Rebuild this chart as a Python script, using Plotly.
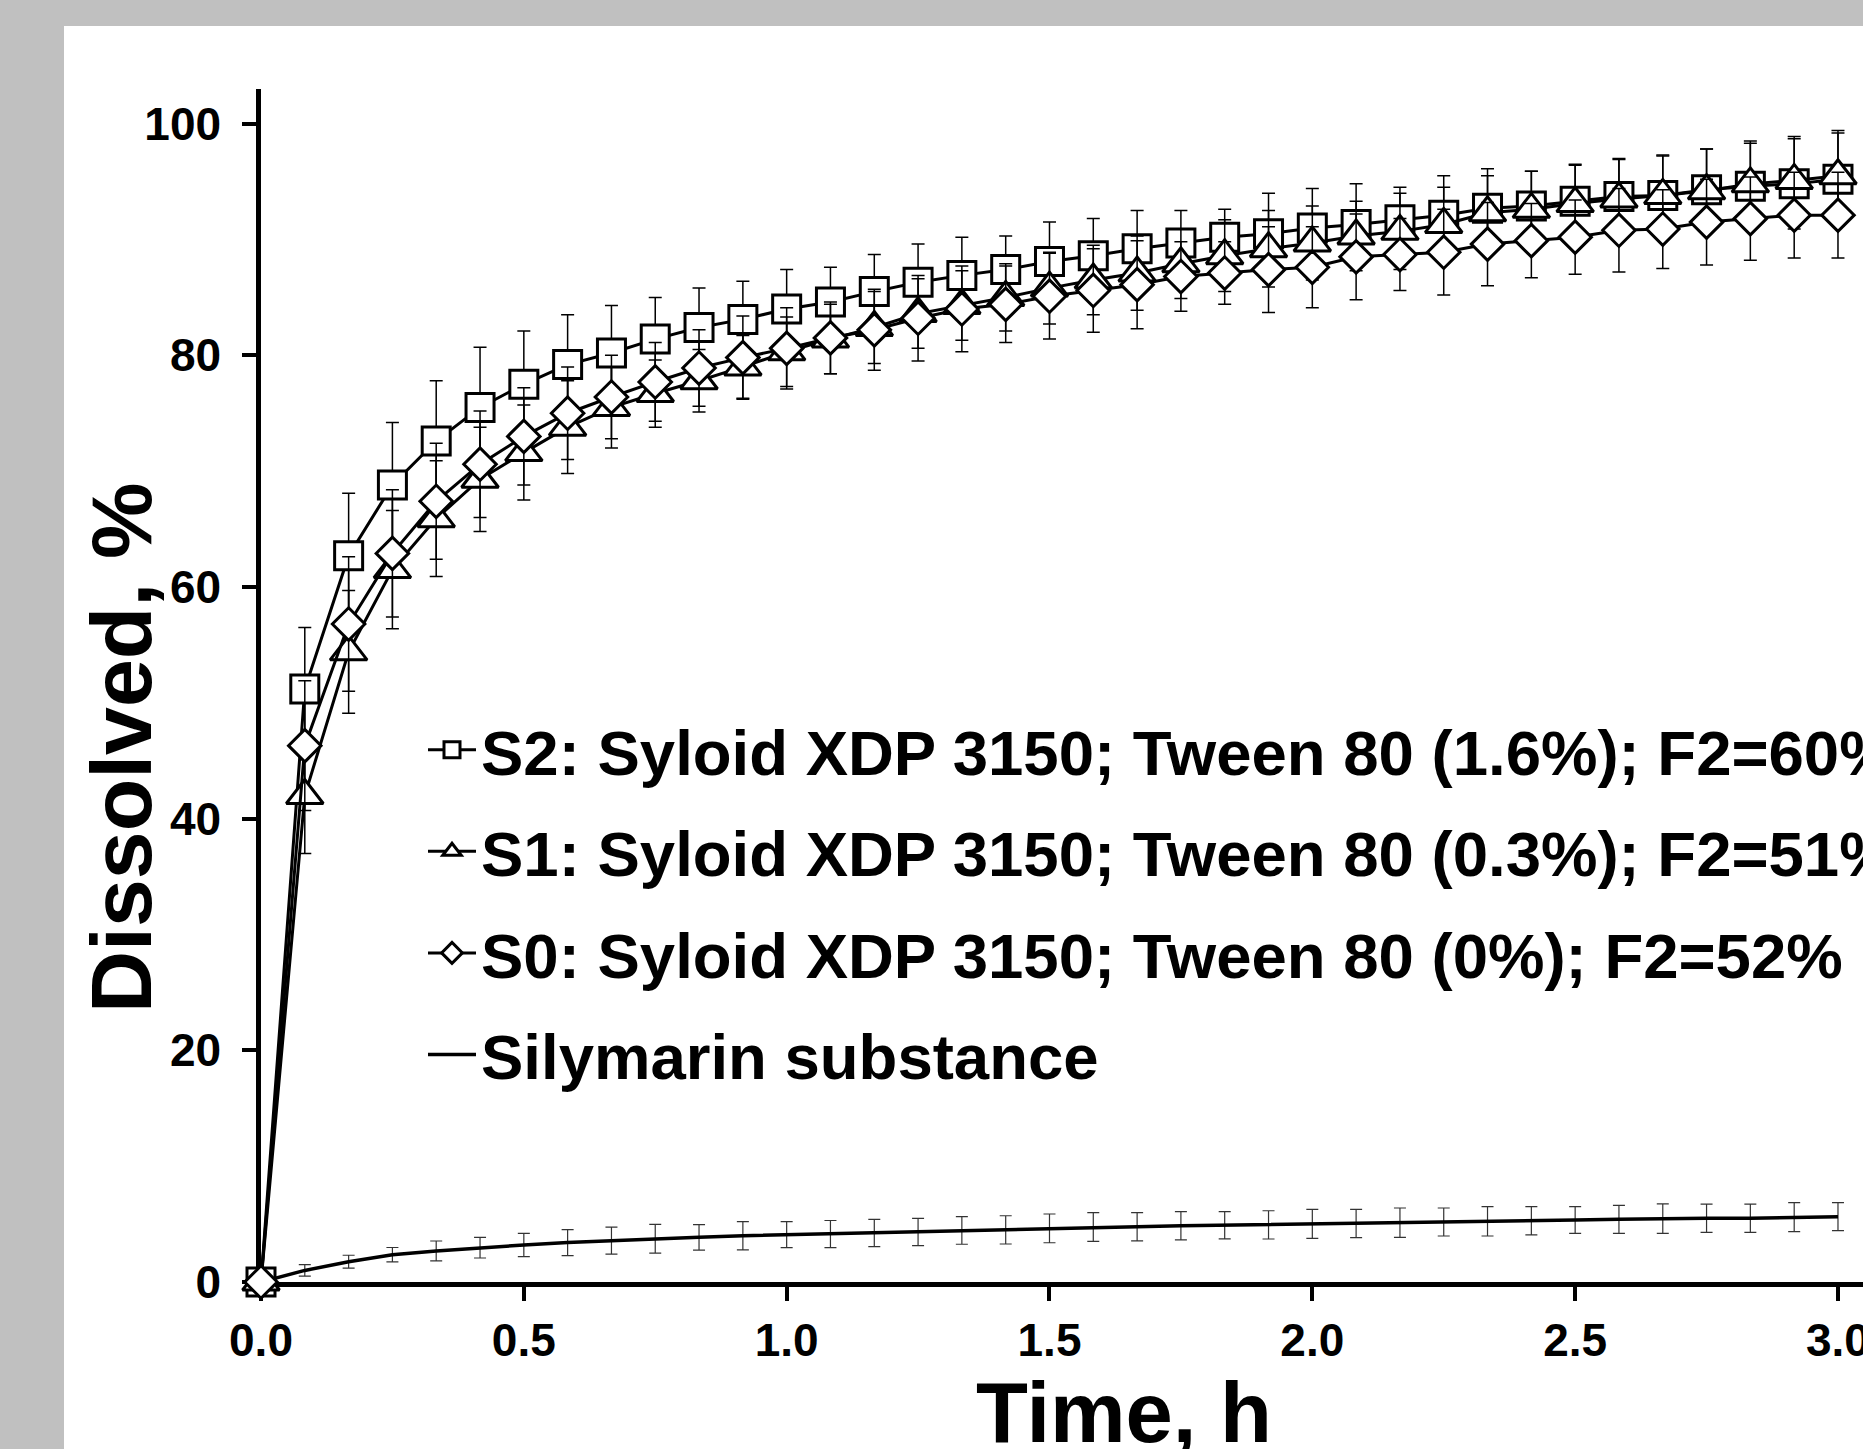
import plotly.graph_objects as go

# ---------------- data ----------------
time_h = [0, 0.0833, 0.1667, 0.25, 0.3333, 0.4167, 0.5, 0.5833, 0.6667, 0.75, 0.8333, 0.9167,
          1.0, 1.0833, 1.1667, 1.25, 1.3333, 1.4167, 1.5, 1.5833, 1.6667, 1.75, 1.8333, 1.9167,
          2.0, 2.0833, 2.1667, 2.25, 2.3333, 2.4167, 2.5, 2.5833, 2.6667, 2.75, 2.8333, 2.9167, 3.0]

s2_mean = [0, 51.2, 62.7, 68.8, 72.6, 75.5, 77.5, 79.2, 80.2, 81.4, 82.4, 83.1,
           84.0, 84.6, 85.5, 86.3, 86.9, 87.4, 88.1, 88.6, 89.2, 89.7, 90.2, 90.5,
           91.0, 91.3, 91.7, 92.1, 92.7, 92.9, 93.3, 93.7, 93.8, 94.3, 94.6, 94.8, 95.2]
s2_sd = [0, 5.3, 5.4, 5.4, 5.2, 5.2, 4.6, 4.3, 4.1, 3.6, 3.4, 3.3,
         3.4, 3.0, 3.2, 3.3, 3.3, 2.9, 3.4, 3.2, 3.3, 2.8, 2.4, 3.5,
         3.4, 3.5, 2.8, 3.4, 3.4, 3.0, 3.1, 3.2, 3.4, 3.5, 3.7, 3.9, 4.0]

s1_mean = [0, 42.0, 54.4, 61.5, 65.9, 69.3, 71.6, 73.8, 75.5, 76.7, 77.8, 79.0,
           80.3, 81.4, 82.4, 83.6, 84.3, 85.0, 85.8, 86.5, 87.1, 87.9, 88.6, 89.2,
           89.7, 90.3, 90.7, 91.3, 92.3, 92.6, 93.1, 93.5, 93.8, 94.2, 94.8, 95.1, 95.5]
s1_sd = [0, 5.0, 5.3, 5.1, 5.0, 4.5, 4.1, 4.0, 3.5, 2.9, 2.7, 2.7,
         3.0, 3.0, 3.1, 3.0, 3.0, 2.9, 3.1, 3.0, 3.2, 3.0, 3.1, 3.3,
         3.2, 3.0, 3.3, 3.2, 3.2, 3.3, 3.4, 3.5, 3.5, 3.6, 3.7, 3.8, 3.9]

s0_mean = [0, 46.3, 56.8, 62.9, 67.4, 70.6, 73.0, 75.0, 76.4, 77.7, 78.9, 79.8,
           80.6, 81.5, 82.2, 83.2, 84.0, 84.4, 85.1, 85.6, 86.1, 86.8, 87.1, 87.4,
           87.6, 88.5, 88.7, 88.9, 89.6, 89.9, 90.2, 90.8, 90.9, 91.5, 91.8, 92.1, 92.1]
s0_sd = [0, 5.6, 5.8, 5.5, 5.0, 4.6, 4.2, 4.0, 3.6, 3.4, 3.3, 3.6,
         3.5, 3.1, 3.5, 3.7, 3.7, 3.3, 3.7, 3.6, 3.8, 3.0, 2.7, 3.7,
         3.5, 3.7, 3.1, 3.7, 3.6, 3.2, 3.2, 3.6, 3.4, 3.7, 3.6, 3.7, 3.7]

sily_mean = [0, 1.0, 1.75, 2.36, 2.68, 2.96, 3.19, 3.40, 3.57, 3.74, 3.86, 4.00,
             4.09, 4.14, 4.23, 4.32, 4.45, 4.50, 4.63, 4.75, 4.77, 4.85, 4.90, 4.93,
             5.02, 5.05, 5.12, 5.18, 5.24, 5.28, 5.35, 5.41, 5.47, 5.50, 5.50, 5.60, 5.64]
sily_sd = [0, 0.5, 0.56, 0.62, 0.86, 0.89, 1.0, 1.12, 1.17, 1.24, 1.1, 1.22,
           1.12, 1.17, 1.18, 1.18, 1.19, 1.22, 1.24, 1.24, 1.22, 1.22, 1.18, 1.22,
           1.25, 1.22, 1.27, 1.21, 1.27, 1.22, 1.15, 1.21, 1.27, 1.22, 1.22, 1.25, 1.21]

names = [
    "S2: Syloid XDP 3150; Tween 80 (1.6%); F2=60%",
    "S1: Syloid XDP 3150; Tween 80 (0.3%); F2=51%",
    "S0: Syloid XDP 3150; Tween 80 (0%); F2=52%",
    "Silymarin substance",
]

x_ticks = [0.0, 0.5, 1.0, 1.5, 2.0, 2.5, 3.0]
y_ticks = [0, 20, 40, 60, 80, 100]

FONT = "Liberation Sans, Arial, Helvetica, sans-serif"

# ---------------- figure ----------------
fig = go.Figure()

fig.add_trace(go.Scatter(
    x=time_h, y=sily_mean, name=names[3], mode="lines",
    line=dict(color="black", width=3.5),
    error_y=dict(type="data", array=sily_sd, visible=True, color="#333333", thickness=1.2, width=6),
    legendrank=4, legendgroup="g4", cliponaxis=False,
))

series = [
    (s2_mean, s2_sd, names[0], "square", 28, 1),
    (s1_mean, s1_sd, names[1], "triangle-up", 32, 2),
    (s0_mean, s0_sd, names[2], "diamond", 25, 3),
]
for m, sd, nm, sym, sz, rank in series:
    fig.add_trace(go.Scatter(
        x=time_h, y=m, name=nm, mode="lines+markers",
        line=dict(color="black", width=3),
        marker=dict(symbol=sym, size=sz, color="white", line=dict(color="black", width=3)),
        error_y=dict(type="data", array=sd, visible=True, color="black", thickness=1.5, width=6.5),
        legendrank=rank, legendgroup="g%d" % rank, cliponaxis=False,
    ))

W, H = 1863, 1449
ML, MR, MT, MB = 261, 0, 89, 167
PW, PH = W - ML - MR, H - MT - MB

def px_x(p):
    return (p - ML) / PW

def px_y(p):
    return (H - MB - p) / PH

fig.update_layout(
    width=W, height=H,
    margin=dict(l=ML, r=MR, t=MT, b=MB, autoexpand=False),
    paper_bgcolor="#c0c0c0",
    plot_bgcolor="white",
    font=dict(family=FONT, color="black", weight="bold"),
    showlegend=True,
    legend=dict(
        x=px_x(423), y=px_y(702), xanchor="left", yanchor="top",
        bgcolor="rgba(0,0,0,0)", borderwidth=0,
        font=dict(family=FONT, size=63.5, color="black", weight="bold"),
        tracegroupgap=16, itemwidth=48,
    ),
    shapes=[dict(
        type="rect", xref="paper", yref="paper", layer="below",
        x0=px_x(64), x1=1.2, y0=px_y(1600), y1=px_y(26),
        fillcolor="white", line=dict(width=0),
    )],
    annotations=[
        dict(text="Time, h", xref="paper", yref="paper",
             x=px_x(1124), y=px_y(1412), xanchor="center", yanchor="middle",
             showarrow=False, font=dict(family=FONT, size=85, color="black", weight="bold")),
        dict(text="Dissolved, %", xref="paper", yref="paper", textangle=-90,
             x=px_x(121), y=px_y(748), xanchor="center", yanchor="middle",
             showarrow=False, font=dict(family=FONT, size=86, color="black", weight="bold")),
    ],
)

fig.update_xaxes(
    range=[0, 3.0476], tickvals=x_ticks, tickformat=".1f",
    showgrid=False, zeroline=False, showline=True, linecolor="black", linewidth=4.5,
    ticks="outside", ticklen=14, tickwidth=3.5, tickcolor="black",
    tickfont=dict(family=FONT, size=46, color="black", weight="bold"),
    ticklabelstandoff=0, ticklabeloverflow="allow", layer="below traces",
)
fig.update_yaxes(
    range=[0, 102.99], tickvals=y_ticks,
    showgrid=False, zeroline=False, showline=True, linecolor="black", linewidth=4.5,
    ticks="outside", ticklen=14, tickwidth=3.5, tickcolor="black",
    tickfont=dict(family=FONT, size=46, color="black", weight="bold"),
    ticklabelstandoff=12, layer="below traces",
)

fig.write_html("out.html")
